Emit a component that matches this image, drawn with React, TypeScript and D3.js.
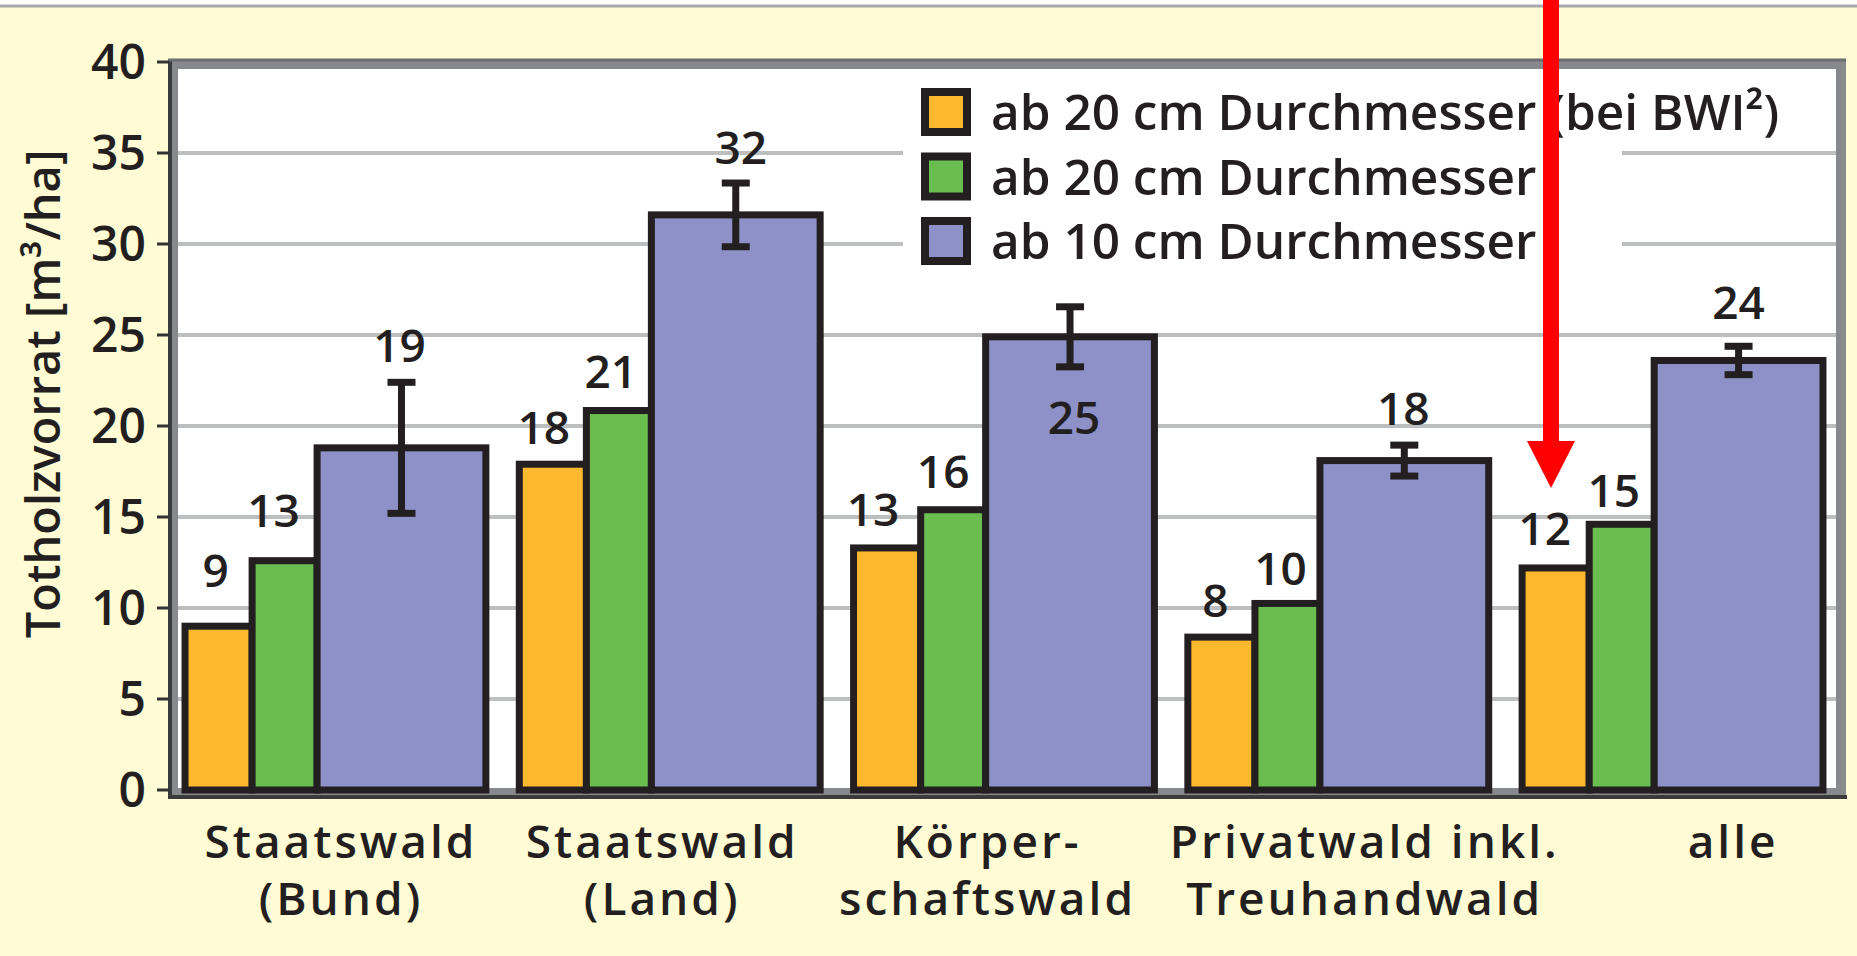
import React from "react";
import * as d3 from "d3";

// ---------- data ----------
const categories = [
  "Staatswald\n(Bund)",
  "Staatswald\n(Land)",
  "Körper-\nschaftswald",
  "Privatwald inkl.\nTreuhandwald",
  "alle",
];
const seriesNames = [
  "ab 20 cm Durchmesser (bei BWI²)",
  "ab 20 cm Durchmesser",
  "ab 10 cm Durchmesser",
];
const bwi2Values = [9.0, 17.9, 13.3, 8.4, 12.2];
const d20Values = [12.6, 20.85, 15.4, 10.25, 14.6];
const d10Values = [18.8, 31.6, 24.9, 18.1, 23.6];
const d10Errors = [3.6, 1.75, 1.65, 0.85, 0.78];
const bwi2Labels = ["9", "18", "13", "8", "12"];
const d20Labels = ["13", "21", "16", "10", "15"];
const d10Labels = ["19", "32", "25", "18", "24"];
const yTicks = [0, 5, 10, 15, 20, 25, 30, 35, 40];
const yTitle = "Totholzvorrat [m³/ha]";

// ---------- layout / style ----------
const W = 1857;
const H = 956;
const colors = ["#FDB92E", "#6ABD4F", "#8E91C7"];
const ink = "#231F20";
const font = "'Open Sans', 'Noto Sans', sans-serif";
const subWeights = [0.223, 0.216, 0.561];
// per-label nudges [dx, dy] (px) for series 0,1,2 of each category
const labelNudge = [
  [[-3, -19], [-11, -14], [-2, 0]],
  [[-9, 0], [-8, -3], [5, 1]],
  [[-14, -2], [-10, -2], [4, 147]],
  [[-6, 0], [-7, 2], [-1, 0]],
  [[-11, -3], [-8, 3], [0, -7]],
];
const xLabelNudge = [4, -9, -18, 25, 59];

export default function App() {
  const y = d3.scaleLinear().domain([0, 40]).range([790, 62]);
  const x = d3
    .scaleBand<string>()
    .domain(categories)
    .range([175, 1833])
    .paddingInner(0.1)
    .paddingOuter(0.03);
  const bw = x.bandwidth();
  const cum = [0];
  subWeights.forEach((w, i) => cum.push(cum[i] + w));

  const series = [bwi2Values, d20Values, d10Values];
  const labels = [bwi2Labels, d20Labels, d10Labels];

  const plotL = 173, plotR = 1841, plotT = 64, plotB = 793;

  const bars: any[] = [];
  const valTexts: any[] = [];
  const errs: any[] = [];
  categories.forEach((c, ci) => {
    const x0 = x(c)!;
    series.forEach((vals, si) => {
      const bx = x0 + cum[si] * bw;
      const bwid = subWeights[si] * bw;
      const v = vals[ci];
      bars.push(
        <rect
          key={`b${ci}-${si}`}
          x={bx}
          y={y(v)}
          width={bwid}
          height={y(0) - y(v)}
          fill={colors[si]}
          stroke={ink}
          strokeWidth={7}
        />
      );
      let top = y(v);
      if (si === 2) {
        const e = d10Errors[ci];
        const cx = bx + bwid / 2;
        top = y(v + e);
        errs.push(
          <g key={`e${ci}`} stroke={ink} strokeWidth={7}>
            <line x1={cx} x2={cx} y1={y(v + e)} y2={y(v - e)} />
            <line x1={cx - 14} x2={cx + 14} y1={y(v + e)} y2={y(v + e)} />
            <line x1={cx - 14} x2={cx + 14} y1={y(v - e)} y2={y(v - e)} />
          </g>
        );
      }
      const [dx, dy] = labelNudge[ci][si];
      valTexts.push(
        <text
          key={`t${ci}-${si}`}
          x={bx + bwid / 2 + dx}
          y={top - 20 + dy}
          textAnchor="middle"
          fontSize={46}
          fontWeight={600}
          fill={ink}
        >
          {labels[si][ci]}
        </text>
      );
    });
  });

  const legendX = 925, legendY0 = 112, legendStep = 64.5;

  return (
    <svg
      width={W}
      height={H}
      style={{ position: "absolute", left: 0, top: 0, fontFamily: font }}
    >
      <rect x={0} y={0} width={W} height={H} fill="#ffffff" />
      <rect x={0} y={7} width={W} height={H - 7} fill="#FFFBD5" />
      <line x1={0} x2={W} y1={6} y2={6} stroke="#A7A9AC" strokeWidth={3} />

      {/* plot area */}
      <rect x={plotL} y={plotT} width={plotR - plotL} height={plotB - plotT} fill="#ffffff" />
      {yTicks
        .filter((t) => t > 0 && t < 40)
        .map((t) => (
          <line
            key={`g${t}`}
            x1={plotL + 5}
            x2={plotR - 5}
            y1={y(t)}
            y2={y(t)}
            stroke="#BCBEC0"
            strokeWidth={4}
          />
        ))}
      {/* legend background */}
      <rect x={903} y={75} width={719} height={200} fill="#ffffff" />

      {/* frame */}
      <rect
        x={plotL}
        y={plotT}
        width={plotR - plotL}
        height={plotB - plotT}
        fill="none"
        stroke="#88898C"
        strokeWidth={10}
      />
      <line x1={plotL - 3} x2={plotR + 6} y1={plotB + 4} y2={plotB + 4} stroke="#3B3A3C" strokeWidth={4} />
      <line x1={plotL - 3} x2={plotL - 3} y1={plotT - 5} y2={plotB + 6} stroke="#3B3A3C" strokeWidth={4} />
      <line x1={plotL - 5} x2={plotR + 5} y1={plotT - 4} y2={plotT - 4} stroke="#6D6E71" strokeWidth={3} />

      {bars}
      {errs}
      {valTexts}

      {/* y axis ticks */}
      {yTicks.map((t) => (
        <g key={`yt${t}`}>
          <line x1={157} x2={169} y1={y(t)} y2={y(t)} stroke="#333" strokeWidth={3} />
          <text
            x={146}
            y={y(t) + 17}
            textAnchor="end"
            fontSize={48}
            fontWeight={600}
            fill={ink}
          >
            {t}
          </text>
        </g>
      ))}
      <text
        transform={`translate(60,${394}) rotate(-90)`}
        textAnchor="middle"
        fontSize={47}
        fontWeight={600}
        fill={ink}
      >
        {yTitle}
      </text>

      {/* x labels */}
      {categories.map((c, ci) => {
        const cx = x(c)! + bw / 2 + xLabelNudge[ci] + 1.5;
        return (
          <text
            key={`xl${ci}`}
            textAnchor="middle"
            fontSize={46}
            fontWeight={600}
            fill={ink}
            letterSpacing={3}
          >
            {c.split("\n").map((line, li) => (
              <tspan key={li} x={cx} y={858 + li * 57}>
                {line}
              </tspan>
            ))}
          </text>
        );
      })}

      {/* legend */}
      {seriesNames.map((n, i) => {
        const cy = legendY0 + i * legendStep;
        return (
          <g key={`lg${i}`}>
            <rect
              x={legendX}
              y={cy - 20}
              width={42}
              height={40}
              fill={colors[i]}
              stroke={ink}
              strokeWidth={8}
            />
            <text x={991} y={cy + 18} fontSize={49.5} fontWeight={600} fill={ink}>
              {n}
            </text>
          </g>
        );
      })}

      {/* red arrow */}
      <line x1={1551} x2={1551} y1={0} y2={445} stroke="#FF0000" strokeWidth={16} />
      <polygon points="1527,441 1575,441 1551,488" fill="#FF0000" />
    </svg>
  );
}
